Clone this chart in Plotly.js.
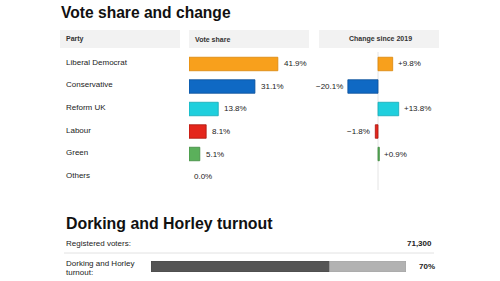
<!DOCTYPE html>
<html>
<head>
<meta charset="utf-8">
<script src="https://cdn.plot.ly/plotly-3.0.1.min.js"></script>
<style>html,body{margin:0;padding:0;background:#fff;}#chart{width:500px;height:281px;}</style>
</head>
<body>
<div id="chart"></div>
<script>
const parties = ['Liberal Democrat', 'Conservative', 'Reform UK', 'Labour', 'Green', 'Others'];
const voteShare = [41.9, 31.1, 13.8, 8.1, 5.1, 0.0];
const changeSince2019 = [9.8, -20.1, 13.8, -1.8, 0.9, null];
const partyColors = ['#F8A01C', '#0F69C4', '#1FCFDD', '#E4261C', '#5BB05B', '#BBBBBB'];
const partyBorders = ['#D9860A', '#0A4F99', '#15A9B5', '#A8140C', '#3F8A3F', '#999999'];
const headers = ['Party', 'Vote share', 'Change since 2019'];
const constituency = 'Dorking and Horley';
const registeredVoters = 71300;
const turnoutPct = 70;

const W = 500, H = 281;
const fx = p => p / W;
const fy = p => 1 - p / H;
const FONT = 'Liberation Sans, Arial, sans-serif';
const TXT = '#222';

const rowRange = [5.511, -0.533];
const shareLineW = voteShare.map(v => (v ? 0.8 : 0));
const changeLineW = changeSince2019.map(v => (v ? 0.8 : 0));

const traces = [
  {
    type: 'bar', orientation: 'h', x: voteShare, y: parties, xaxis: 'x', yaxis: 'y',
    width: 0.6,
    marker: {color: partyColors, line: {color: partyBorders, width: shareLineW}},
    hoverinfo: 'none'
  },
  {
    type: 'bar', orientation: 'h', x: changeSince2019, y: parties, xaxis: 'x2', yaxis: 'y2',
    width: 0.6,
    marker: {color: partyColors, line: {color: partyBorders, width: changeLineW}},
    hoverinfo: 'none'
  },
  {
    type: 'bar', orientation: 'h', x: [turnoutPct], y: [0], base: 0, xaxis: 'x3', yaxis: 'y3',
    width: 1, marker: {color: '#555555', line: {color: '#444', width: 0.6}}, hoverinfo: 'none'
  },
  {
    type: 'bar', orientation: 'h', x: [100 - turnoutPct], y: [0], base: turnoutPct, xaxis: 'x3', yaxis: 'y3',
    width: 1, marker: {color: '#B2B2B2', line: {color: '#a0a0a0', width: 0.6}}, hoverinfo: 'none'
  }
];

const annotations = [];
function ann(o) {
  annotations.push(Object.assign({showarrow: false, font: {family: FONT, size: 8, color: TXT}}, o));
}

// titles
ann({text: 'Vote share and change', xref: 'paper', yref: 'paper', x: fx(59), y: fy(12.5),
  xanchor: 'left', yanchor: 'middle', font: {family: FONT, size: 15.6, color: '#111', weight: 700}});
ann({text: constituency + ' turnout', xref: 'paper', yref: 'paper', x: fx(64), y: fy(223.5),
  xanchor: 'left', yanchor: 'middle', font: {family: FONT, size: 15.9, color: '#111', weight: 700}});

// headers
ann({text: headers[0], xref: 'paper', yref: 'paper', x: fx(64), y: fy(39), xanchor: 'left', yanchor: 'middle',
  font: {family: FONT, size: 7, color: '#333', weight: 700}});
ann({text: headers[1], xref: 'paper', yref: 'paper', x: fx(193), y: fy(39), xanchor: 'left', yanchor: 'middle',
  font: {family: FONT, size: 7, color: '#333', weight: 700}});
ann({text: headers[2], xref: 'paper', yref: 'paper', x: fx(380), y: fy(39), xanchor: 'center', yanchor: 'middle',
  font: {family: FONT, size: 7, color: '#333', weight: 700}});

parties.forEach((p, i) => {
  ann({text: p, xref: 'paper', yref: 'y', x: fx(64), y: p, xanchor: 'left', yanchor: 'middle', yshift: 1.5});
  ann({text: voteShare[i].toFixed(1) + '%', xref: 'x', yref: 'y', x: voteShare[i], y: p,
    xanchor: 'left', yanchor: 'middle', xshift: voteShare[i] > 0 ? 4 : 3});
  const c = changeSince2019[i];
  if (c !== null) {
    const lbl = (c >= 0 ? '+' : '\u2212') + Math.abs(c).toFixed(1) + '%';
    ann({text: lbl, xref: 'x2', yref: 'y2', x: c, y: p,
      xanchor: c >= 0 ? 'left' : 'right', yanchor: 'middle', xshift: c >= 0 ? 3 : -3});
  }
});

// turnout section
ann({text: 'Registered voters:', xref: 'paper', yref: 'paper', x: fx(64), y: fy(243), xanchor: 'left', yanchor: 'middle'});
ann({text: registeredVoters.toLocaleString('en-GB'), xref: 'paper', yref: 'paper', x: fx(434), y: fy(243),
  xanchor: 'right', yanchor: 'middle', font: {family: FONT, size: 8, color: TXT, weight: 700}});
ann({text: constituency, xref: 'paper', yref: 'paper', x: fx(64), y: fy(263), xanchor: 'left', yanchor: 'middle'});
ann({text: 'turnout:', xref: 'paper', yref: 'paper', x: fx(64), y: fy(272), xanchor: 'left', yanchor: 'middle'});
ann({text: turnoutPct + '%', xref: 'paper', yref: 'paper', x: fx(417), y: fy(266.5),
  xanchor: 'left', yanchor: 'middle', font: {family: FONT, size: 8, color: TXT, weight: 700}});

const shapes = [
  {type: 'rect', xref: 'paper', yref: 'paper', x0: fx(60), x1: fx(180), y0: fy(48), y1: fy(30), fillcolor: '#F2F2F2', line: {width: 0}, layer: 'below'},
  {type: 'rect', xref: 'paper', yref: 'paper', x0: fx(189), x1: fx(309), y0: fy(48), y1: fy(30), fillcolor: '#F2F2F2', line: {width: 0}, layer: 'below'},
  {type: 'rect', xref: 'paper', yref: 'paper', x0: fx(319), x1: fx(439), y0: fy(48), y1: fy(30), fillcolor: '#F2F2F2', line: {width: 0}, layer: 'below'},
  {type: 'line', xref: 'x2', yref: 'paper', x0: 0, x1: 0, y0: fy(190), y1: fy(52), line: {color: '#E4E4E4', width: 1}, layer: 'below'},
  {type: 'line', xref: 'paper', yref: 'paper', x0: fx(64), x1: fx(434), y0: fy(253), y1: fy(253), line: {color: '#E2E2E2', width: 1}}
];

const hidden = {visible: false, fixedrange: true, showgrid: false, zeroline: false};
const layout = {
  width: W, height: H,
  margin: {l: 0, r: 0, t: 0, b: 0},
  paper_bgcolor: '#fff', plot_bgcolor: 'rgba(0,0,0,0)',
  showlegend: false, barmode: 'overlay',
  xaxis: Object.assign({domain: [fx(189), fx(309)], range: [0, 120 / 2.12], anchor: 'y'}, hidden),
  yaxis: Object.assign({domain: [fy(188), fy(52)], type: 'category', categoryorder: 'array', categoryarray: parties, range: rowRange, anchor: 'x'}, hidden),
  xaxis2: Object.assign({domain: [fx(319), fx(439)], range: [-59 / 1.5, 61 / 1.5], anchor: 'y2'}, hidden),
  yaxis2: Object.assign({domain: [fy(188), fy(52)], type: 'category', categoryorder: 'array', categoryarray: parties, range: rowRange, anchor: 'x2'}, hidden),
  xaxis3: Object.assign({domain: [fx(151), fx(406)], range: [0, 100], anchor: 'y3'}, hidden),
  yaxis3: Object.assign({domain: [fy(272), fy(261)], range: [-0.5, 0.5], anchor: 'x3'}, hidden),
  annotations: annotations,
  shapes: shapes
};

Plotly.newPlot('chart', traces, layout, {staticPlot: true, displayModeBar: false});
</script>
</body>
</html>
